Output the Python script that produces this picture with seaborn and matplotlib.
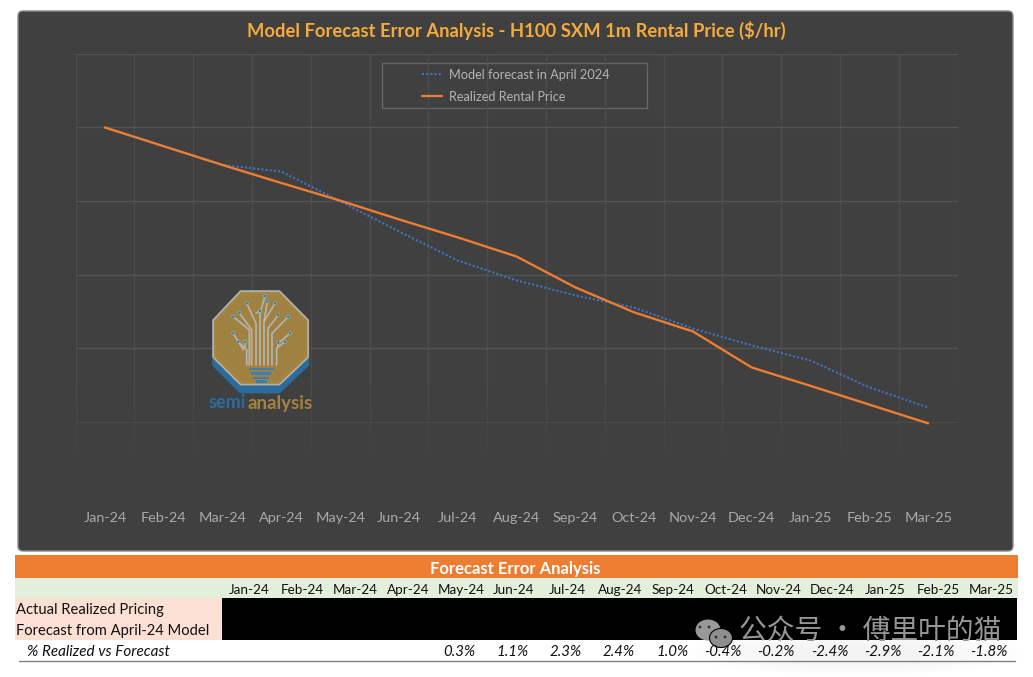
import matplotlib
matplotlib.use('Agg')
import matplotlib.pyplot as plt
import seaborn as sns
import numpy as np
from matplotlib.colors import to_rgb
from matplotlib.patches import Rectangle, Polygon, FancyBboxPatch, Ellipse, Circle

# values, $/hr (y axis labels are hidden in the original)
months = ['Jan-24', 'Feb-24', 'Mar-24', 'Apr-24', 'May-24', 'Jun-24', 'Jul-24', 'Aug-24',
          'Sep-24', 'Oct-24', 'Nov-24', 'Dec-24', 'Jan-25', 'Feb-25', 'Mar-25']
forecast = [3.10, 3.049, 2.998, 2.980, 2.899, 2.817, 2.738, 2.684,
            2.643, 2.610, 2.553, 2.507, 2.466, 2.393, 2.338]
realized = [3.10, 3.049, 2.998, 2.949, 2.901, 2.850, 2.801, 2.749,
            2.665, 2.597, 2.545, 2.447, 2.397, 2.346, 2.295]
pct_months = months[4:]
pct_labels = ['0.3%', '1.1%', '2.3%', '2.4%', '1.0%', '-0.4%', '-0.2%', '-2.4%', '-2.9%', '-2.1%', '-1.8%']

PANEL = '#404040'
ORANGE = '#ED7D31'
BLUE = '#4472C4'
FONT = ['Lato', 'Noto Sans CJK SC', 'DejaVu Sans']

sns.set_theme(style='dark')
plt.rcParams['font.family'] = FONT

W, H = 1033, 677
fig = plt.figure(figsize=(W / 100, H / 100), dpi=100, facecolor='white')

# background axes in pixel coordinates: panel and table
bg = fig.add_axes([0, 0, 1, 1], zorder=0)
bg.axis('off')
bg.add_patch(FancyBboxPatch((18, 11), 995, 540, boxstyle='round,pad=0,rounding_size=5',
                            fc=PANEL, ec='#8a8a8a', lw=1))
bg.add_patch(Rectangle((382, 63), 265, 45, fc='none', ec='#666666', lw=1))

# table under the chart
bg.add_patch(Rectangle((15, 555), 1003, 23, fc=ORANGE, ec='none'))
bg.add_patch(Rectangle((15, 578), 1003, 20, fc='#E2EFDA', ec='none'))
bg.add_patch(Rectangle((15, 598), 207, 42, fc='#FCE0D3', ec='none'))
bg.add_patch(Rectangle((222, 598), 795, 42, fc='black', ec='none'))
bg.plot([19, 1015], [661, 661], color='#808080', lw=1)
bg.text(515, 569, 'Forecast Error Analysis', color='white', fontsize=12, fontweight='bold', ha='center', va='center')
for i, m in enumerate(months):
    bg.text(249 + i * 53, 590, m, color='#111111', fontsize=9.7, ha='center', va='center')
bg.text(16, 610, 'Actual Realized Pricing', color='#111111', fontsize=10.6, va='center')
bg.text(16, 631, 'Forecast from April-24 Model', color='#111111', fontsize=10.6, va='center')
bg.text(27, 651.5, '% Realized vs Forecast', color='#111111', fontsize=11, style='italic', va='center')
for i, (m, lab) in enumerate(zip(pct_months, pct_labels)):
    bg.text(475 + i * 53.3, 651.5, lab, color='#111111', fontsize=10.8, style='italic', ha='right', va='center')

# watermark, only the part over the black cells is strong
clip = Rectangle((222, 598), 795, 42, transform=bg.transData)
wm = bg.text(739, 631, '公众号 · 傅里叶的猫', color='#969696', fontsize=20, va='center', ha='left',
             family=['Noto Sans CJK SC', 'DejaVu Sans'])
wm.set_clip_path(clip)
bg.add_patch(Ellipse((708, 630), 25, 21, fc='#989898', ec='none'))
bg.add_patch(Ellipse((721, 638), 23, 19, fc='#8f8f8f', ec='black', lw=0.8))
for dx, dy in [(700, 627), (709, 627), (716, 637), (725, 637)]:
    bg.add_patch(Circle((dx, dy), 1.4, fc='#333333', ec='none'))

# faint grey smear the watermark leaves on the white row
smear = np.zeros((40, 120, 4))
gx, gy = np.meshgrid(np.linspace(-1, 1, 120), np.linspace(-0.6, 1, 40))
smear[:, :, 3] = 0.05 * np.clip(1 - gx ** 2 - gy ** 2, 0, 1)
bg.imshow(smear, extent=(680, 1033, 677, 640), aspect='auto', zorder=1)
bg.set_xlim(0, W)
bg.set_ylim(H, 0)

# main chart, same pixel box as the plot area in the reference
ax = fig.add_axes([75.6 / W, 1 - 495 / H, 881.9 / W, 441 / H], zorder=1)
ax.patch.set_alpha(0)
sns.lineplot(x=months, y=forecast, sort=False, color=BLUE, linestyle=(0, (1, 1)), linewidth=1.5,
             label='Model forecast in April 2024', ax=ax, zorder=3)
sns.lineplot(x=months, y=realized, sort=False, color=ORANGE, linewidth=1.7,
             label='Realized Rental Price', ax=ax, zorder=4)

ax.set_ylim(2.1, 3.3)
ax.set_yticks(np.arange(2.3, 3.31, 0.2))
ax.set_yticklabels([])
ax.set_xticks(np.arange(-0.5, 15, 1), minor=True)
ax.tick_params(axis='both', which='both', length=0)
ax.tick_params(axis='x', which='major', colors='#aaaaaa', labelsize=10.4, pad=12)
ax.grid(False)
ax.grid(True, axis='y', which='major', color='#545454', lw=1, zorder=1)
ax.grid(True, axis='x', which='minor', color='#4c4c4c', lw=1, zorder=1)
ax.set_axisbelow(True)
ax.set_xlabel('')
ax.set_ylabel('')
for s in ax.spines.values():
    s.set_visible(False)

# gridlines fade out toward the bottom of the plot
fade = np.zeros((100, 2, 4))
fade[:, :, :3] = to_rgb(PANEL)
rows_px = np.linspace(54, 495, 100)
fade[:, :, 3] = np.clip((rows_px - 385) / 85, 0, 1)[:, None]
ax.imshow(fade, extent=(0, 1, 0, 1), transform=ax.transAxes, origin='upper', aspect='auto', zorder=2)
ax.set_xlim(-0.5, 14.5)
ax.set_ylim(2.1, 3.3)

ax.set_title('Model Forecast Error Analysis - H100 SXM 1m Rental Price ($/hr)', color='#F5AB3C',
             fontsize=13.25, fontweight='bold', x=0.5, pad=12)

leg = ax.legend(loc='center left', bbox_to_anchor=((422 - 75.6) / 881.9, 1 - (85.8 - 54) / 441), frameon=False,
                fontsize=9.2, handlelength=1.6, handletextpad=0.5, labelspacing=0.8, borderpad=0, borderaxespad=0)
for t in leg.get_texts():
    t.set_color('#b4b4b4')

# logo sits over the gridlines, which only just show through it
logo = fig.add_axes([0, 0, 1, 1], zorder=2)
logo.axis('off')
logo.patch.set_alpha(0)


def draw_logo(a):
    # outline is drawn in the coordinates of a 3x crop, so convert here
    def p(x, y):
        return x / 3 + 180, y / 3 + 270
    octagon = [(183, 67), (297, 67), (381, 152), (381, 260), (297, 340), (183, 340), (103, 260), (103, 152)]
    shadow = [(x, y + 24) if y > 200 else (x, y) for x, y in octagon]
    a.add_patch(Polygon([p(*q) for q in shadow], fc='#2B6C9B', ec='#2B6C9B', lw=3, joinstyle='round'))
    a.add_patch(Polygon([p(*q) for q in octagon], fc='none', ec='#B5B1A6', lw=3, joinstyle='round'))
    a.add_patch(Polygon([p(*q) for q in octagon], fc='#A4833F', ec='#A4833F', lw=0.5, joinstyle='round', alpha=0.97))
    branches = [
        [(215, 285), (215, 180), (178, 128)], [(228, 285), (228, 160), (200, 100)],
        [(240, 285), (240, 130), (255, 78)], [(252, 285), (252, 155), (285, 100)],
        [(264, 285), (264, 175), (295, 135)], [(276, 285), (276, 190), (325, 140)],
        [(200, 285), (200, 240), (175, 215)], [(290, 285), (290, 235), (315, 215)],
        [(208, 285), (208, 180), (160, 140)], [(190, 240), (160, 190)], [(300, 215), (330, 190)],
        [(228, 130), (240, 122)], [(252, 155), (262, 95)], [(195, 235), (195, 215)], [(295, 230), (295, 218)],
    ]
    for b in branches:
        xy = np.array([p(*q) for q in b])
        a.plot(xy[:, 0], xy[:, 1], color='#B7B5AE', lw=1.2, solid_capstyle='round')
        a.add_patch(Circle(xy[-1], 1.6, fc='#2B7FB5', ec='#B7B5AE', lw=0.4, zorder=3))
    for yy, half in [(297, 38), (311, 30), (324, 24), (335, 16)]:
        x0, y0 = p(244 - half, yy - 4)
        a.add_patch(Rectangle((x0, y0), 2 * half / 3, 2.6, fc='#3E7FB0', ec='none'))
    a.text(209, 403, 'semi', color='#2B6C9B', fontsize=13, fontweight='bold', va='center', ha='left')
    a.text(248, 403, 'analysis', color='#A4833F', fontsize=13.5, fontweight='bold', va='center', ha='left')


draw_logo(logo)
logo.set_xlim(0, W)
logo.set_ylim(H, 0)

fig.savefig('out.png', dpi=100, facecolor='white')
